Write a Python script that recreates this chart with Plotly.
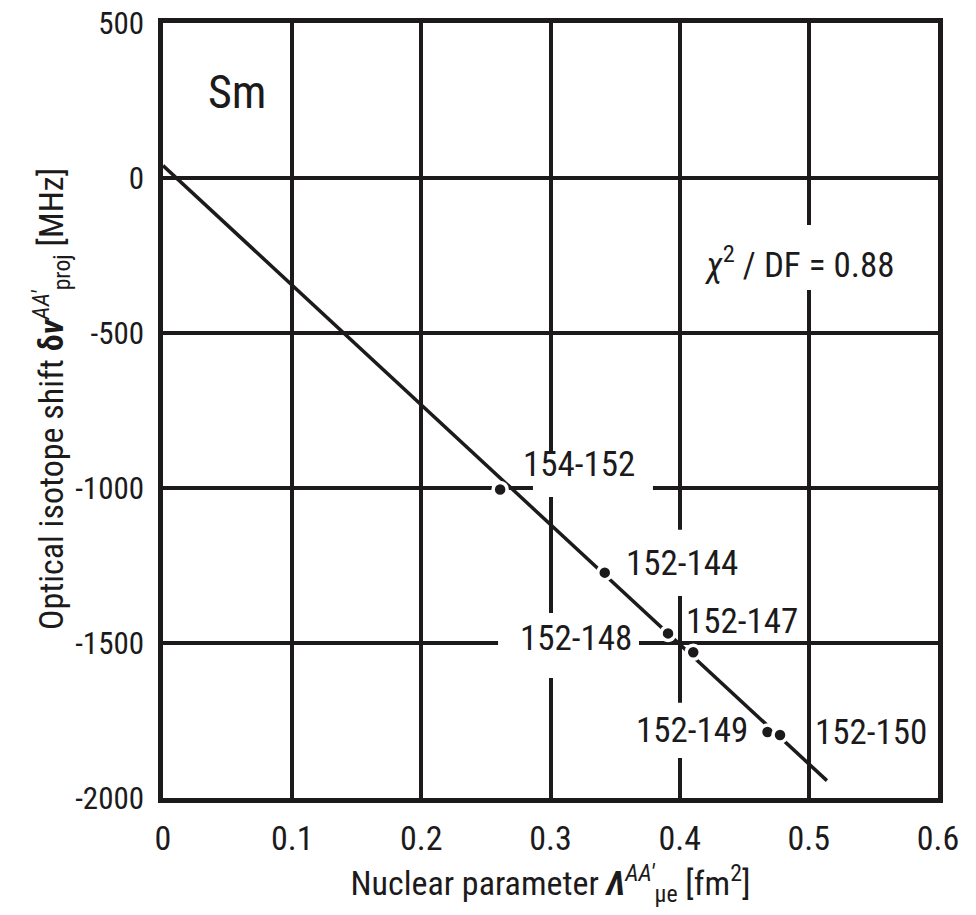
import plotly.graph_objects as go

# ---- data ----
pair_labels = ["154-152", "152-144", "152-148", "152-147", "152-149", "152-150"]
lambda_vals = [0.261, 0.342, 0.391, 0.4105, 0.468, 0.4777]
shift_vals = [-1005, -1273, -1469, -1530, -1787, -1797]

fit_x = [0.0, 0.514]
fit_y = [40, -1944]

# label text centres (data coords)
label_x = [0.322, 0.402, 0.3197, 0.4482, 0.4095, 0.5481]
label_y = [-923, -1245, -1487, -1432, -1781, -1790]

x_tickvals = [0, 0.1, 0.2, 0.3, 0.4, 0.5, 0.6]
x_ticktext = ["0", "0.1", "0.2", "0.3", "0.4", "0.5", "0.6"]
y_tickvals = [500, 0, -500, -1000, -1500, -2000]
y_ticktext = ["500", "0", "-500", "-1000", "-1500", "-2000"]

# white masks behind labels that interrupt the grid: (x0, x1, y0, y1)
mask_x0 = [0.2864, 0.3538, 0.2594, 0.3615, 0.4119]
mask_x1 = [0.3793, 0.4505, 0.3685, 0.4583, 0.5744]
mask_y0 = [-884, -1135, -1403, -1693, -152]
mask_y1 = [-1029, -1348, -1613, -1871, -361]

FONT = "Roboto Condensed, Liberation Sans Narrow, DejaVu Sans Condensed, Arial Narrow, sans-serif"
INK = "#1c1a1b"

fig = go.Figure()

fig.add_trace(go.Scatter(
    x=fit_x, y=fit_y, mode="lines",
    line=dict(color=INK, width=3.5), showlegend=False, hoverinfo="skip"))

fig.add_trace(go.Scatter(
    x=lambda_vals, y=shift_vals, mode="markers",
    marker=dict(color=INK, size=14, line=dict(color="white", width=3.5)),
    showlegend=False, text=pair_labels))

for x0, x1, y0, y1 in zip(mask_x0, mask_x1, mask_y0, mask_y1):
    fig.add_shape(type="rect", x0=x0, x1=x1, y0=y0, y1=y1,
                  fillcolor="white", line=dict(width=0), layer="between")

for lab, lx, ly in zip(pair_labels, label_x, label_y):
    fig.add_annotation(x=lx, y=ly, text=lab, showarrow=False,
                       font=dict(size=35, color=INK, family=FONT),
                       xanchor="center", yanchor="middle")

fig.add_annotation(x=0.0577, y=279, text="Sm", showarrow=False,
                   font=dict(size=46, color=INK, family=FONT),
                   xanchor="center", yanchor="middle")
fig.add_annotation(x=0.4931, y=-274,
                   text="<i>χ</i><sup>2</sup> / DF = 0.88", showarrow=False,
                   font=dict(size=35, color=INK, family=FONT),
                   xanchor="center", yanchor="middle")

# y-axis title (placed as rotated text to sit close to the tick labels)
fig.add_annotation(
    xref="paper", yref="paper", x=-0.1445, y=0.5148,
    text="Optical isotope shift <b>δ<i>ν</i></b><sup><i>AA′</i></sup><sub>proj</sub> [MHz]",
    textangle=-90, showarrow=False, xanchor="center", yanchor="middle",
    font=dict(size=34, color=INK, family=FONT))

fig.update_layout(
    width=976, height=915,
    margin=dict(l=163, r=38, t=23, b=117),
    paper_bgcolor="white", plot_bgcolor="white",
    font=dict(family=FONT, size=34, color=INK),
    showlegend=False,
)

fig.update_xaxes(
    range=[0, 0.6], tickvals=x_tickvals, ticktext=x_ticktext,
    showgrid=True, gridcolor=INK, gridwidth=3.5, zeroline=False,
    showline=True, linecolor=INK, linewidth=4.5, mirror=True,
    ticks="", ticklabelstandoff=6, automargin=False, ticklabeloverflow="allow",
    tickfont=dict(size=34, family=FONT, color=INK),
    title=dict(text="Nuclear parameter <b><i>Λ</i></b><sup><i>AA′</i></sup><sub>μe</sub> [fm<sup>2</sup>]",
               font=dict(size=34, family=FONT, color=INK), standoff=16),
)
fig.update_yaxes(
    range=[-2000, 500], tickvals=y_tickvals, ticktext=y_ticktext,
    showgrid=True, gridcolor=INK, gridwidth=3.5, zeroline=False,
    showline=True, linecolor=INK, linewidth=4.5, mirror=True,
    ticks="", ticklabelstandoff=8, automargin=False, ticklabeloverflow="allow",
    tickfont=dict(size=31, family=FONT, color=INK),
)

# remove the browser's default 8px body margin so the figure fills the window
fig.write_html("out.html", config={"displayModeBar": False},
               post_script="document.body.style.margin='0px';")
